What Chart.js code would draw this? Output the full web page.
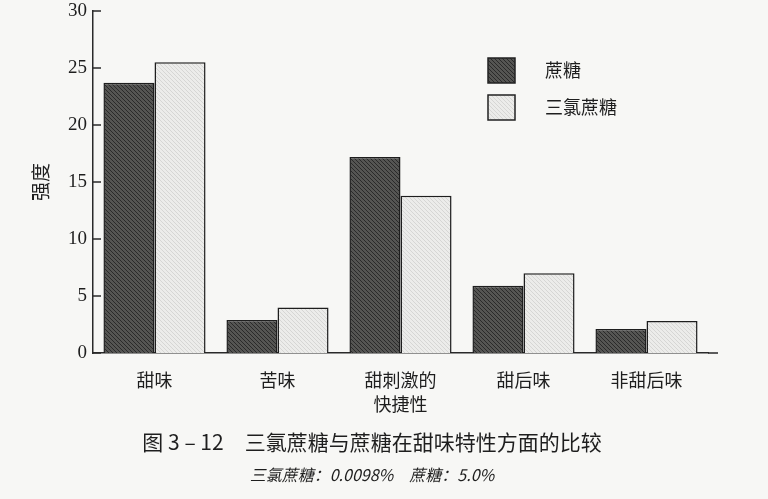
<!DOCTYPE html>
<html>
<head>
<meta charset="utf-8">
<script src="https://cdn.jsdelivr.net/npm/chart.js@4.4.0/dist/chart.umd.min.js"></script>
<style>
    html, body { margin: 0; padding: 0; background: #f7f7f5; }
    #wrap { width: 768px; height: 499px; position: relative; }
</style>
</head>
<body>
<div id="wrap"><canvas id="sweetChart"></canvas></div>
<script>
// Data
const categories = ['甜味', '苦味', ['甜刺激的', '快捷性'], '甜后味', '非甜后味'];
const sucroseValues = [23.7, 2.9, 17.2, 5.9, 2.1];
const sucraloseValues = [25.5, 4.0, 13.8, 7.0, 2.8];
const seriesNames = ['蔗糖', '三氯蔗糖'];
const yTicks = [0, 5, 10, 15, 20, 25, 30];
const yTitle = '强度';
const captionTitle = '图 3 – 12　三氯蔗糖与蔗糖在甜味特性方面的比较';
const captionNote = '三氯蔗糖：0.0098%　蔗糖：5.0%';

const CJK = '"Noto Sans CJK SC", "Noto Sans", sans-serif';
const SERIF = '"Liberation Serif", "DejaVu Serif", serif';

// Diagonal hatch fill like the printed bars
function hatch(base, line) {
    const s = 4;
    const p = document.createElement('canvas');
    p.width = s; p.height = s;
    const g = p.getContext('2d');
    g.fillStyle = base;
    g.fillRect(0, 0, s, s);
    g.strokeStyle = line;
    g.lineWidth = 1;
    g.beginPath();
    g.moveTo(-1, -1); g.lineTo(s + 1, s + 1);
    g.moveTo(-1, s - 1); g.lineTo(1, s + 1);
    g.moveTo(s - 1, -1); g.lineTo(s + 1, 1);
    g.stroke();
    return g.createPattern(p, 'repeat');
}

const darkFill = hatch('#555553', '#2a2a2a');
const lightFill = hatch('#ececea', '#d6d6d4');

// Short inward ticks on the y axis, plus the slightly longer x axis line
const axisMarks = {
    id: 'axisMarks',
    afterDraw(chart) {
        const ctx = chart.ctx;
        const y = chart.scales.y;
        const area = chart.chartArea;
        ctx.save();
        ctx.strokeStyle = '#2a2a2a';
        ctx.lineWidth = 1.5;
        ctx.beginPath();
        y.ticks.forEach((t, i) => {
            const py = y.getPixelForTick(i);
            ctx.moveTo(area.left, py);
            ctx.lineTo(area.left + 8, py);
        });
        ctx.moveTo(area.right, area.bottom);
        ctx.lineTo(area.right + 10, area.bottom);
        ctx.stroke();
        ctx.restore();
    }
};

// Legend boxes in the upper right of the plot
const boxLegend = {
    id: 'boxLegend',
    afterDraw(chart) {
        const ctx = chart.ctx;
        ctx.save();
        chart.data.datasets.forEach((ds, i) => {
            const bx = 488, by = 58 + i * 37;
            ctx.fillStyle = ds.backgroundColor;
            ctx.fillRect(bx, by, 27, 25);
            ctx.strokeStyle = '#222';
            ctx.lineWidth = 1.5;
            ctx.strokeRect(bx, by, 27, 25);
            ctx.fillStyle = '#1e1e1e';
            ctx.font = '18px ' + CJK;
            ctx.textBaseline = 'middle';
            ctx.textAlign = 'left';
            ctx.fillText(ds.label, 545, by + 12);
        });
        ctx.restore();
    }
};

// Figure caption under the axis
const caption = {
    id: 'caption',
    afterDraw(chart) {
        const ctx = chart.ctx;
        ctx.save();
        ctx.fillStyle = '#1e1e1e';
        ctx.textAlign = 'center';
        ctx.textBaseline = 'middle';
        ctx.font = '21px ' + CJK;
        ctx.fillText(captionTitle, 372, 442);
        ctx.font = 'italic 16px ' + CJK;
        ctx.fillText(captionNote, 372, 475);
        ctx.restore();
    }
};

const ctx = document.getElementById('sweetChart').getContext('2d');

new Chart(ctx, {
    type: 'bar',
    data: {
        labels: categories,
        datasets: [
            {
                label: seriesNames[0],
                data: sucroseValues,
                backgroundColor: darkFill,
                borderColor: '#1e1e1e',
                borderWidth: 1.5
            },
            {
                label: seriesNames[1],
                data: sucraloseValues,
                backgroundColor: lightFill,
                borderColor: '#1e1e1e',
                borderWidth: 1.5
            }
        ]
    },
    options: {
        responsive: true,
        maintainAspectRatio: false,
        animation: false,
        layout: {
            padding: { left: 0, top: 11, right: 60, bottom: 0 }
        },
        datasets: {
            bar: {
                categoryPercentage: 0.83,
                barPercentage: 1.0
            }
        },
        plugins: {
            legend: { display: false },
            title: { display: false },
            tooltip: { enabled: false }
        },
        scales: {
            x: {
                grid: { display: false, drawTicks: false },
                border: { display: true, color: '#2a2a2a', width: 1.5 },
                ticks: {
                    color: '#1e1e1e',
                    padding: 15,
                    maxRotation: 0,
                    autoSkip: false,
                    font: { family: CJK, size: 18, lineHeight: 1.35 }
                },
                afterFit(scale) {
                    scale.height = 146;
                    scale.paddingLeft = 0;
                    scale.paddingRight = 0;
                }
            },
            y: {
                min: 0,
                max: 30,
                afterBuildTicks(scale) {
                    scale.ticks = yTicks.map(v => ({ value: v }));
                },
                grid: { display: false, drawTicks: false },
                border: { display: true, color: '#2a2a2a', width: 1.5 },
                ticks: {
                    color: '#1e1e1e',
                    padding: 6,
                    font: { family: SERIF, size: 19 }
                },
                title: {
                    display: true,
                    text: yTitle,
                    color: '#1e1e1e',
                    padding: { top: 29, bottom: 0 },
                    font: { family: CJK, size: 19 }
                },
                afterFit(scale) {
                    scale.width = 93;
                    scale.paddingTop = 0;
                    scale.paddingBottom = 0;
                }
            }
        }
    },
    plugins: [axisMarks, boxLegend, caption]
});
</script>
</body>
</html>
